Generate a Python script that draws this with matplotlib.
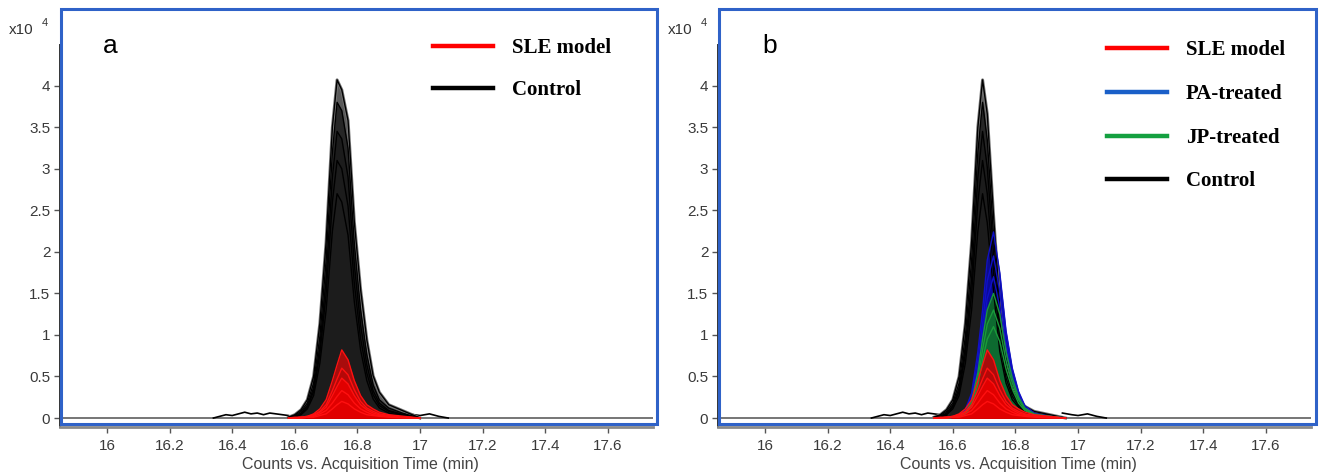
import matplotlib
matplotlib.use('Agg')
from matplotlib import pyplot as plt
from matplotlib.patches import Rectangle
from matplotlib.lines import Line2D
import numpy as np

W, H = 1319, 476

# retention time grids (min)
time_a = [16.58, 16.60, 16.62, 16.64, 16.66, 16.68, 16.70, 16.72, 16.735, 16.75,
          16.77, 16.79, 16.81, 16.83, 16.85, 16.87, 16.90, 16.95, 17.00]
time_b = [16.54, 16.56, 16.58, 16.60, 16.62, 16.64, 16.66, 16.68, 16.695, 16.71,
          16.73, 16.75, 16.77, 16.79, 16.81, 16.83, 16.86, 16.91, 16.96]

# counts (x10^4), several replicate traces per group
control_a = [
    [0.01, 0.04, 0.10, 0.22, 0.50, 1.14, 2.12, 3.50, 4.07, 3.95, 3.58, 2.36, 1.55, 0.94, 0.51, 0.31, 0.16, 0.08, 0.00],
    [0.01, 0.03, 0.08, 0.18, 0.42, 0.98, 1.90, 3.20, 3.80, 3.70, 3.25, 2.10, 1.30, 0.76, 0.40, 0.22, 0.12, 0.05, 0.00],
    [0.00, 0.02, 0.06, 0.15, 0.36, 0.86, 1.68, 2.90, 3.45, 3.36, 2.90, 1.85, 1.12, 0.64, 0.33, 0.18, 0.09, 0.04, 0.00],
    [0.00, 0.02, 0.05, 0.13, 0.32, 0.77, 1.50, 2.60, 3.10, 3.00, 2.55, 1.62, 0.96, 0.54, 0.28, 0.15, 0.08, 0.03, 0.00],
    [0.00, 0.01, 0.04, 0.11, 0.27, 0.66, 1.30, 2.25, 2.70, 2.60, 2.20, 1.40, 0.82, 0.45, 0.23, 0.12, 0.06, 0.02, 0.00],
]
sle = [
    [0.00, 0.01, 0.01, 0.02, 0.05, 0.11, 0.22, 0.45, 0.64, 0.82, 0.70, 0.45, 0.27, 0.16, 0.11, 0.07, 0.04, 0.02, 0.00],
    [0.00, 0.00, 0.01, 0.02, 0.04, 0.08, 0.16, 0.33, 0.47, 0.60, 0.52, 0.34, 0.20, 0.12, 0.08, 0.05, 0.03, 0.01, 0.00],
    [0.00, 0.00, 0.01, 0.01, 0.03, 0.07, 0.13, 0.27, 0.38, 0.48, 0.41, 0.27, 0.16, 0.10, 0.06, 0.04, 0.02, 0.01, 0.00],
    [0.00, 0.00, 0.00, 0.01, 0.02, 0.05, 0.09, 0.18, 0.26, 0.33, 0.28, 0.18, 0.11, 0.07, 0.04, 0.03, 0.02, 0.01, 0.00],
    [0.00, 0.00, 0.00, 0.01, 0.01, 0.03, 0.05, 0.11, 0.16, 0.20, 0.17, 0.11, 0.07, 0.04, 0.03, 0.02, 0.01, 0.00, 0.00],
]
control_b = [
    [0.01, 0.04, 0.10, 0.22, 0.50, 1.14, 2.12, 3.50, 4.07, 3.66, 2.44, 1.34, 0.73, 0.41, 0.24, 0.14, 0.08, 0.04, 0.00],
    [0.01, 0.03, 0.08, 0.18, 0.42, 0.98, 1.90, 3.20, 3.80, 3.35, 2.20, 1.18, 0.62, 0.34, 0.19, 0.11, 0.06, 0.03, 0.00],
    [0.00, 0.02, 0.06, 0.15, 0.36, 0.86, 1.68, 2.90, 3.45, 3.02, 1.98, 1.05, 0.55, 0.30, 0.17, 0.10, 0.05, 0.02, 0.00],
    [0.00, 0.02, 0.05, 0.13, 0.32, 0.77, 1.50, 2.60, 3.10, 2.70, 1.76, 0.93, 0.48, 0.26, 0.15, 0.08, 0.04, 0.02, 0.00],
    [0.00, 0.01, 0.04, 0.11, 0.27, 0.66, 1.30, 2.25, 2.70, 2.35, 1.53, 0.80, 0.42, 0.22, 0.13, 0.07, 0.04, 0.01, 0.00],
]
pa_treated = [
    [0.00, 0.00, 0.00, 0.01, 0.03, 0.10, 0.30, 0.80, 1.30, 1.90, 2.24, 1.75, 1.05, 0.60, 0.32, 0.15, 0.06, 0.02, 0.00],
    [0.00, 0.00, 0.00, 0.01, 0.03, 0.09, 0.26, 0.70, 1.13, 1.65, 1.95, 1.52, 0.91, 0.52, 0.28, 0.13, 0.05, 0.02, 0.00],
    [0.00, 0.00, 0.00, 0.01, 0.02, 0.07, 0.22, 0.60, 0.98, 1.44, 1.70, 1.33, 0.80, 0.46, 0.24, 0.11, 0.05, 0.01, 0.00],
]
jp_treated = [
    [0.00, 0.00, 0.00, 0.01, 0.02, 0.07, 0.20, 0.55, 0.95, 1.30, 1.50, 1.25, 0.80, 0.48, 0.25, 0.12, 0.05, 0.02, 0.00],
    [0.00, 0.00, 0.00, 0.01, 0.02, 0.06, 0.17, 0.48, 0.82, 1.13, 1.30, 1.08, 0.69, 0.42, 0.22, 0.10, 0.04, 0.02, 0.00],
    [0.00, 0.00, 0.00, 0.01, 0.02, 0.05, 0.15, 0.40, 0.70, 0.95, 1.10, 0.92, 0.59, 0.35, 0.18, 0.09, 0.04, 0.01, 0.00],
]
# baseline noise before and after the peak
noise_t1 = [16.34, 16.36, 16.38, 16.40, 16.42, 16.44, 16.46, 16.48, 16.50, 16.52, 16.54, 16.56, 16.58]
noise_y1 = [0.00, 0.02, 0.04, 0.03, 0.05, 0.07, 0.05, 0.06, 0.04, 0.06, 0.05, 0.04, 0.03]
noise_t2 = [16.95, 16.98, 17.00, 17.03, 17.06, 17.09]
noise_y2 = [0.06, 0.04, 0.03, 0.05, 0.02, 0.00]

xticks = [16.0, 16.2, 16.4, 16.6, 16.8, 17.0, 17.2, 17.4, 17.6]
yticks = [0, 0.5, 1, 1.5, 2, 2.5, 3, 3.5, 4]

labels_a = ['SLE model', 'Control']
colors_a = ['#ff0000', '#000000']
labels_b = ['SLE model', 'PA-treated', 'JP-treated', 'Control']
colors_b = ['#ff0000', '#1a5fc8', '#14a040', '#000000']


def fx(px):
    return px / W


def fy(py):
    return 1 - py / H


def draw_group(ax, t, traces, fills, line, edge=None):
    for i, y in enumerate(traces):
        ax.fill_between(t, 0, y, color=fills[min(i, len(fills) - 1)], lw=0)
        if i == 0 and edge is not None:
            ax.plot(t, y, color=edge, lw=2.2)
        ax.plot(t, y, color=line, lw=1.0)


def style_axis(ax):
    ax.set_xlim(15.85, 17.744)
    ax.set_ylim(-0.108, 4.49)
    ax.set_xticks(xticks)
    ax.set_xticklabels([f'{v:g}' for v in xticks])
    ax.set_yticks(yticks)
    ax.set_yticklabels([f'{v:g}' for v in yticks])
    for s in ['top', 'right']:
        ax.spines[s].set_visible(False)
    ax.spines['left'].set_color('#333333')
    ax.spines['left'].set_linewidth(1.4)
    ax.spines['bottom'].set_color('#8a8a8a')
    ax.spines['bottom'].set_linewidth(2.0)
    ax.tick_params(axis='both', colors='#555555', labelcolor='#3a3a3a',
                   labelsize=11, length=4, width=1, direction='out')
    ax.tick_params(axis='x', pad=5)
    ax.tick_params(axis='y', pad=3)
    for lab in ax.get_xticklabels() + ax.get_yticklabels():
        lab.set_family('Liberation Sans')


def baseline(ax):
    ax.plot([15.85, 17.744], [0, 0], color='#6a6a6a', lw=1.3, zorder=1)
    ax.plot(noise_t1, noise_y1, color='black', lw=1.2)
    ax.plot(noise_t2, noise_y2, color='black', lw=1.2)


fig = plt.figure(figsize=(W / 100, H / 100), dpi=100)

panels = [
    dict(left=60, frame=(61, 657), xl=9, tag='a', tagx=110, legx=433, ys=[46, 88],
         labels=labels_a, colors=colors_a),
    dict(left=718, frame=(719, 1316), xl=668, tag='b', tagx=770, legx=1107, ys=[48, 92, 136, 179],
         labels=labels_b, colors=colors_b),
]

axes = []
for p in panels:
    ax = fig.add_axes([fx(p['left']), fy(427), 593 / W, (427 - 45) / H])
    axes.append(ax)

ax_a, ax_b = axes
baseline(ax_a)
draw_group(ax_a, time_a, control_a, ['#5a5a5a', '#262626', '#1c1c1c'], 'black', edge='#777777')
draw_group(ax_a, time_a, sle, ['#a80c0c', '#b40808', '#e00000'], '#ff1010')

baseline(ax_b)
draw_group(ax_b, time_b, control_b, ['#5a5a5a', '#262626', '#1c1c1c'], 'black', edge='#777777')
draw_group(ax_b, time_b, pa_treated, ['#0c0c8c', '#0a0a9a'], '#1010c8')
draw_group(ax_b, time_b, jp_treated, ['#0b5e2a', '#0d6a30'], '#1a9a3a')
draw_group(ax_b, time_b, sle, ['#a80c0c', '#b40808', '#e00000'], '#ff1010')

for ax, p in zip(axes, panels):
    style_axis(ax)
    cx = p['left'] + 300
    fig.text(fx(cx), fy(464), 'Counts vs. Acquisition Time (min)', ha='center', va='center',
             fontsize=11.5, color='#444444', family='Liberation Sans')
    # blue frame
    x0, x1 = p['frame']
    fig.patches.append(Rectangle((fx(x0), fy(424)), (x1 - x0) / W, (424 - 9) / H,
                                 transform=fig.transFigure, fill=False,
                                 edgecolor='#2f62c8', lw=2.2, zorder=5))
    fig.text(fx(p['xl']), fy(30), 'x10', ha='left', va='center', fontsize=11,
             color='#333333', family='Liberation Sans')
    fig.text(fx(p['xl'] + 33), fy(23), '4', ha='left', va='center', fontsize=8,
             color='#333333', family='Liberation Sans')
    fig.text(fx(p['tagx']), fy(46), p['tag'], ha='center', va='center', fontsize=19,
             color='black', family='Liberation Sans')
    # legend
    for lab, col, yy in zip(p['labels'], p['colors'], p['ys']):
        fig.add_artist(Line2D([fx(p['legx']), fx(p['legx'] + 60)], [fy(yy), fy(yy)],
                              transform=fig.transFigure, color=col, lw=3.2))
        fig.text(fx(p['legx'] + 79), fy(yy + 2), lab, ha='left', va='center', fontsize=15,
                 fontweight='bold', color='black', family='Liberation Serif')

plt.savefig('out.png', dpi=100)
